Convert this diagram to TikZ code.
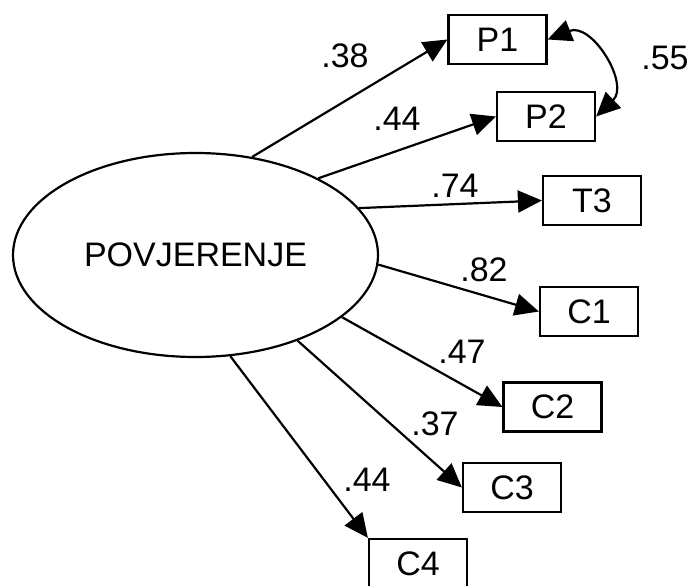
\documentclass[tikz,border=0pt]{standalone}
\usepackage{fontspec}
\setmainfont{Liberation Sans}
\usetikzlibrary{arrows.meta,shapes.geometric}
\begin{document}
\begin{tikzpicture}[x=1pt,y=-1pt,
  every node/.style={font=\fontsize{34}{38}\selectfont},
  var/.style={draw,line width=2.2pt,rectangle,minimum width=98pt,minimum height=49pt,inner sep=0pt},
  lat/.style={draw,line width=2.2pt,ellipse,minimum width=365pt,minimum height=204pt,inner sep=0pt},
  path/.style={line width=2.2pt,-{Triangle[length=24pt,width=22pt]}},
  cov/.style={line width=2.2pt,{Triangle[length=24pt,width=22pt]}-{Triangle[length=24pt,width=22pt]}},
  coef/.style={inner sep=0pt}]
\useasboundingbox (0,0) rectangle (691,586);
\node[lat] (e) at (195.5,255) {POVJERENJE};
\node[var] (p1) at (497.5,39.5) {P1};
\node[var] (p2) at (546,116.5) {P2};
\node[var] (t3) at (592,200.5) {T3};
\node[var] (c1) at (589,311.5) {C1};
\node[var] (c2) at (552.5,407) {C2};
\node[var] (c3) at (512,487.5) {C3};
\node[var] (c4) at (418,563.5) {C4};
\draw[path] (e.60.3) -- (p1.west);
\draw[path] (e.32.7) -- (p2.west);
\draw[path] (e.16.6) -- (t3.west);
\draw[path] (e.-3.8) -- (c1.west);
\draw[path] (e.-23.6) -- (c2.west);
\draw[path] (e.-40.5) -- (c3.west);
\draw[path] (e.-71) -- (c4.north west);
\draw[cov] (p1.east) .. controls (592,22) and (630,84) .. (p2.east);
\node[coef] (l1) at (345,56) {.38};
\node[coef] (l2) at (397,119) {.44};
\node[coef] (l3) at (455,186) {.74};
\node[coef] (l4) at (484,270) {.82};
\node[coef] (l5) at (462,352) {.47};
\node[coef] (l6) at (435,424) {.37};
\node[coef] (l7) at (367,480) {.44};
\node[coef] (l8) at (665,58) {.55};
\end{tikzpicture}
\end{document}
